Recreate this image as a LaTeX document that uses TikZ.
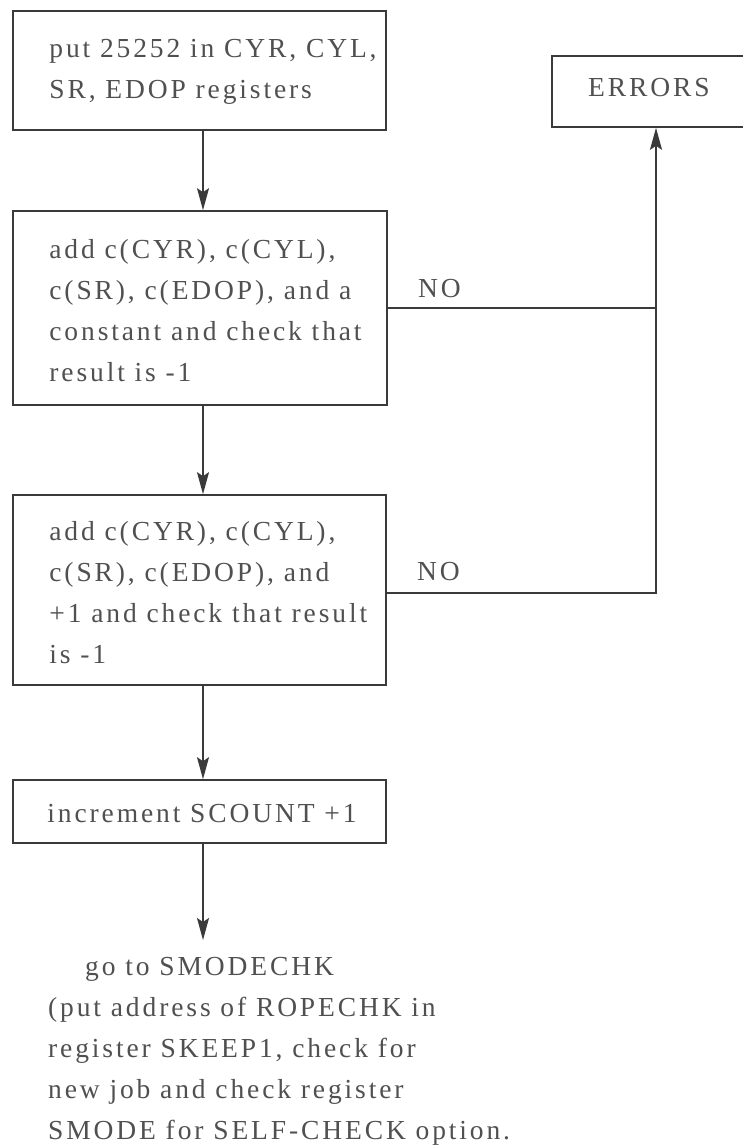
\documentclass[tikz,border=0pt]{standalone}
\usepackage{fontspec}
\setmainfont{Liberation Serif}[LetterSpace=10.5]
\usetikzlibrary{arrows.meta}
\definecolor{linec}{HTML}{3A3A3A}
\definecolor{txtc}{HTML}{505050}
\begin{document}
\begin{tikzpicture}[x=1pt,y=-1pt,
  stepbox/.style={draw=linec, line width=1.6pt, rectangle, inner sep=0pt},
  label/.style={text=txtc, inner sep=0pt, align=left,
    font=\fontsize{27.5}{41}\selectfont},
  arr/.style={draw=linec, line width=1.6pt,
    -{Stealth[length=22pt,width=12pt,inset=4pt]}},
  wire/.style={draw=linec, line width=1.6pt}]
  \fill[white] (0,0) rectangle (743,1147);
  \clip (0,0) rectangle (743,1147);

  % process boxes
  \node[stepbox, minimum width=373pt, minimum height=119pt] (b1) at (199.5,70.5) {};
  \node[stepbox, minimum width=374pt, minimum height=194pt] (b2) at (200,308) {};
  \node[stepbox, minimum width=373pt, minimum height=190pt] (b3) at (199.5,590) {};
  \node[stepbox, minimum width=373pt, minimum height=63pt] (b4) at (199.5,811.5) {};
  \node[stepbox, minimum width=208pt, minimum height=71pt] (err) at (656,91.5) {};

  % box texts
  \node[label, anchor=west] (t1) at ([xshift=37pt,yshift=-1pt]b1.west)
    {put 25252 in CYR, CYL,\\SR, EDOP registers};
  \node[label, anchor=west] (t2) at ([xshift=37pt,yshift=-3pt]b2.west)
    {add c(CYR), c(CYL),\\c(SR), c(EDOP), and a\\constant and check that\\result is -1};
  \node[label, anchor=west] (t3) at ([xshift=37pt,yshift=-3pt]b3.west)
    {add c(CYR), c(CYL),\\c(SR), c(EDOP), and\\+1 and check that result\\is -1};
  \node[label, anchor=west] (t4) at ([xshift=35pt,yshift=-2pt]b4.west)
    {increment SCOUNT +1};
  \node[label, anchor=base west] (t5) at (588,97) {ERRORS};

  % exit text
  \node[label, anchor=north west] (goto) at (48,957)
    {\hspace*{37pt}go to SMODECHK\\(put address of ROPECHK in\\register SKEEP1, check for\\new job and check register\\SMODE for SELF-CHECK option.};

  % main flow
  \draw[arr] ([xshift=3.5pt]b1.south) -- ([xshift=3pt]b2.north);
  \draw[arr] ([xshift=3pt]b2.south) -- ([xshift=3.5pt]b3.north);
  \draw[arr] ([xshift=3.5pt]b3.south) -- ([xshift=3.5pt]b4.north);
  \draw[arr, shorten >=17pt] ([xshift=3.5pt]b4.south) -- ([xshift=3.5pt]b4.south |- goto.north);

  % error branches
  \draw[wire] (b2.east) -- node[label, pos=0.11, anchor=base west, yshift=10pt] (no1) {NO} (b2.east -| err.south);
  \draw[arr] ([yshift=-3pt]b3.east) -- node[label, pos=0.11, anchor=base west, yshift=13pt] (no2) {NO} ([yshift=-3pt]b3.east -| err.south) -- (err.south);
\end{tikzpicture}
\end{document}
